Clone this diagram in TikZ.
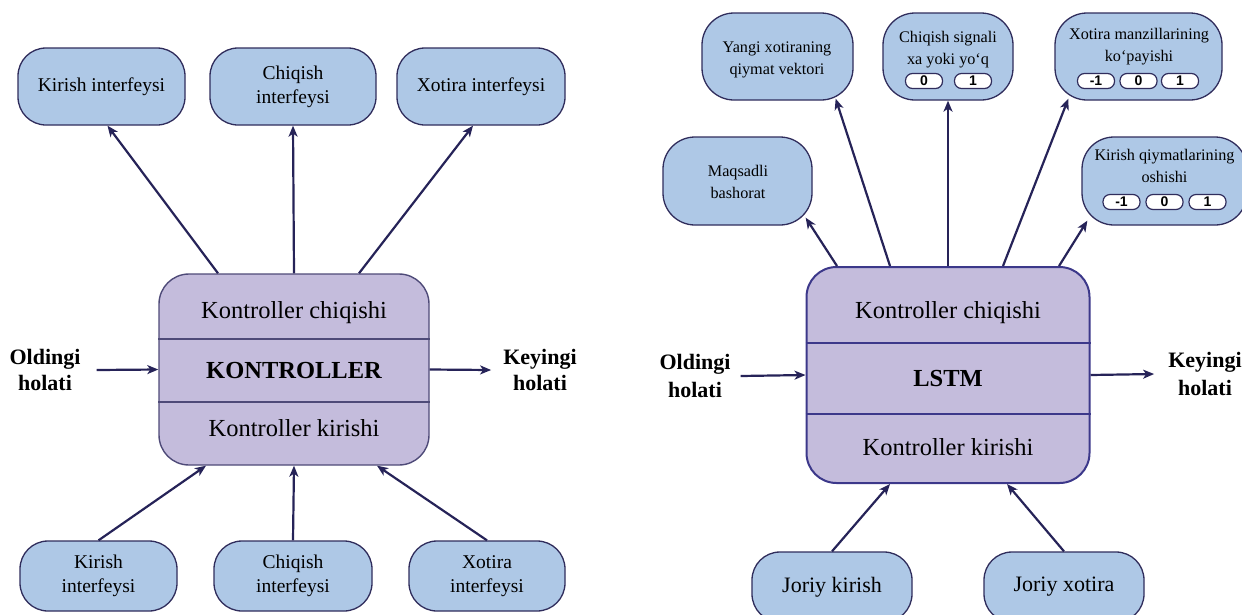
\documentclass[tikz,border=0pt]{standalone}
\usepackage{fontspec}
\setmainfont{Liberation Serif}
\setsansfont{Liberation Sans}
\usetikzlibrary{arrows.meta,calc}

\definecolor{boxblue}{RGB}{174,200,230}
\definecolor{corepurple}{RGB}{196,188,220}
\definecolor{edgec}{RGB}{48,45,92}
\definecolor{coreedgeL}{RGB}{78,74,120}
\definecolor{coreedgeR}{RGB}{60,56,138}
\definecolor{arrowc}{RGB}{38,35,88}

\tikzset{
  ibox/.style={draw=edgec, line width=1.3pt, fill=boxblue, rounded corners=28pt,
    align=center, inner sep=0pt, font=\fontsize{19.5}{24}\selectfont},
  sbox/.style={draw=edgec, line width=1.3pt, fill=boxblue, rounded corners=32pt,
    inner sep=0pt},
  stext/.style={align=center, inner sep=0pt, font=\fontsize{16.2}{22}\selectfont},
  jbox/.style={ibox, font=\fontsize{22}{26}\selectfont},
  corebox/.style={fill=corepurple, rounded corners=30pt, inner sep=0pt},
  coretext/.style={inner sep=0pt, font=\fontsize{24.5}{28}\selectfont},
  pill/.style={draw=edgec, line width=1.2pt, fill=white, rounded corners=7pt,
    minimum width=37pt, minimum height=15pt, inner sep=0pt,
    font=\sffamily\bfseries\fontsize{14}{14}\selectfont},
  lbl/.style={align=center, inner sep=0pt, font=\bfseries\fontsize{22}{26}\selectfont},
  arr/.style={draw=arrowc, line width=2.2pt,
    -{Stealth[length=11pt,width=9pt,inset=3pt]}}
}

\begin{document}
\begin{tikzpicture}[x=1pt,y=-1pt]
\useasboundingbox (0,0) rectangle (1242,614);

% ---------------- controller diagram ----------------
\node[corebox, draw=coreedgeL, line width=1.4pt, minimum width=270pt, minimum height=191pt]
  (ctrl) at (294,369.5) {};
\draw[coreedgeL, line width=1.4pt] (ctrl.west |- 0,339) -- (ctrl.east |- 0,339);
\draw[coreedgeL, line width=1.4pt] (ctrl.west |- 0,402) -- (ctrl.east |- 0,402);
\node[coretext] (ctrlout) at (294,313) {Kontroller chiqishi};
\node[coretext, font=\bfseries\fontsize{24.5}{28}\selectfont] (ctrlname) at (294,371) {KONTROLLER};
\node[coretext] (ctrlin) at (294,428) {Kontroller kirishi};

\node[ibox, minimum width=167pt, minimum height=77pt] (kin) at (101.5,86.5) {Kirish interfeysi};
\node[ibox, minimum width=166pt, minimum height=77pt] (cout) at (293,86.5) {Chiqish\\interfeysi};
\node[ibox, minimum width=168pt, minimum height=77pt] (mem) at (481,86.5) {Xotira interfeysi};

\node[ibox, minimum width=157pt, minimum height=70pt] (kinb) at (98.5,576) {Kirish\\interfeysi};
\node[ibox, minimum width=158pt, minimum height=70pt] (coutb) at (293,576) {Chiqish\\interfeysi};
\node[ibox, minimum width=156pt, minimum height=70pt] (memb) at (487,576) {Xotira\\interfeysi};

\node[lbl] (prevL) at (45,370) {Oldingi\\holati};
\node[lbl] (nextL) at (540,370) {Keyingi\\holati};

\draw[arr] ($(ctrl.north)+(-76,0)$) -- ($(kin.south)+(6,0)$);
\draw[arr] (ctrl.north) -- (cout.south);
\draw[arr] ($(ctrl.north)+(65,0)$) -- ($(mem.south)+(-8,0)$);

\draw[arr] (kinb.north) -- ($(ctrl.south)+(-88,0)$);
\draw[arr] (coutb.north) -- (ctrl.south);
\draw[arr] (memb.north) -- ($(ctrl.south)+(83,0)$);

\draw[arr] ($(prevL.east)+(16,0)$) -- (ctrl.west);
\draw[arr] (ctrl.east) -- ($(nextL.west)+(-12,0)$);

% ---------------- LSTM diagram ----------------
\node[corebox, draw=coreedgeR, line width=2pt, minimum width=283pt, minimum height=216pt]
  (lstm) at (948,375) {};
\draw[coreedgeR, line width=2pt] (lstm.west |- 0,343) -- (lstm.east |- 0,343);
\draw[coreedgeR, line width=2pt] (lstm.west |- 0,414) -- (lstm.east |- 0,414);
\node[coretext] (lstmout) at (948,313) {Kontroller chiqishi};
\node[coretext, font=\bfseries\fontsize{24.5}{28}\selectfont] (lstmname) at (948,378) {LSTM};
\node[coretext] (lstmin) at (948,447) {Kontroller kirishi};

\node[sbox, minimum width=151pt, minimum height=87pt] (yangi) at (777.5,56.5) {};
\node[stext] (yangit) at (777,60) {Yangi xotiraning\\qiymat vektori};

\node[sbox, minimum width=130pt, minimum height=87pt] (chiq) at (948,56.5) {};
\node[stext] (chiqt) at (948,50) {Chiqish signali\\xa yoki yo‘q};
\node[pill] (chiqA) at (924,81) {0};
\node[pill] (chiqB) at (973,81) {1};

\node[sbox, minimum width=167pt, minimum height=87pt] (xot) at (1138.5,56.5) {};
\node[stext] (xott) at (1139,47) {Xotira manzillarining\\ko‘payishi};
\node[pill] (xotA) at (1096,81) {-1};
\node[pill] (xotB) at (1138.5,81) {0};
\node[pill] (xotC) at (1180,81) {1};

\node[sbox, minimum width=149pt, minimum height=88pt] (maq) at (737.5,181) {};
\node[stext] (maqt) at (738,182) {Maqsadli\\bashorat};

\node[sbox, minimum width=165pt, minimum height=88pt] (kq) at (1164.5,181) {};
\node[stext] (kqt) at (1164.5,166) {Kirish qiymatlarining\\oshishi};
\node[pill] (kqA) at (1121.5,202) {-1};
\node[pill] (kqB) at (1164.5,202) {0};
\node[pill] (kqC) at (1207.5,202) {1};

\node[jbox, minimum width=160pt, minimum height=70pt] (jk) at (832,587) {Joriy kirish};
\node[jbox, minimum width=160pt, minimum height=70pt] (jx) at (1064,587) {Joriy xotira};

\node[lbl, font=\bfseries\fontsize{22}{28}\selectfont] (prevR) at (695,376) {Oldingi\\holati};
\node[lbl, font=\bfseries\fontsize{22}{28}\selectfont] (nextR) at (1205,374) {Keyingi\\holati};

\draw[arr] ($(lstm.north)+(-111,0)$) -- ($(maq.south east)+(-7,-8)$);
\draw[arr] ($(lstm.north)+(-58,0)$) -- ($(yangi.south east)+(-18,-2)$);
\draw[arr] (lstm.north) -- (chiq.south);
\draw[arr] ($(lstm.north)+(55,0)$) -- ($(xot.south west)+(14,-2)$);
\draw[arr] ($(lstm.north)+(111,0)$) -- ($(kq.south west)+(6,-5)$);

\draw[arr] (jk.north) -- ($(lstm.south)+(-58,0)$);
\draw[arr] (jx.north) -- ($(lstm.south)+(59,0)$);

\draw[arr] ($(prevR.east)+(10,0)$) -- (lstm.west);
\draw[arr] (lstm.east) -- ($(nextR.west)+(-14,0)$);
\end{tikzpicture}
\end{document}
